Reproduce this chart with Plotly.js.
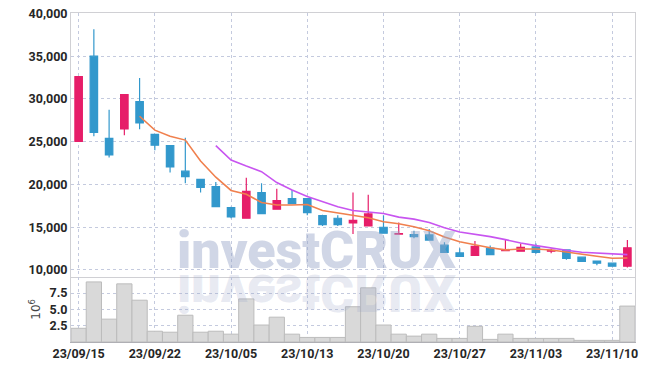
<!DOCTYPE html>
<html>
<head>
<meta charset="utf-8">
<script src="https://cdn.plot.ly/plotly-3.0.1.min.js"></script>
<style>html,body{margin:0;padding:0;background:#fff;}#chart{width:645px;height:370px;}</style>
</head>
<body>
<div id="chart"></div>
<script>
const dates = ["23/09/15","23/09/18","23/09/19","23/09/20","23/09/21","23/09/22","23/09/25","23/09/26","23/09/27",
  "23/10/04","23/10/05","23/10/06","23/10/10","23/10/11","23/10/12","23/10/13","23/10/16","23/10/17","23/10/18",
  "23/10/19","23/10/20","23/10/23","23/10/24","23/10/25","23/10/26","23/10/27","23/10/30","23/10/31","23/11/01",
  "23/11/02","23/11/03","23/11/06","23/11/07","23/11/08","23/11/09","23/11/10","23/11/13"];
const openP  = [25050,35000,25400,26500,29700,25850,24550,21550,20600,19750,17300,16050,19050,17100,18350,18350,16350,16050,15500,15150,15000,14200,14150,14100,12900,12000,11700,12550,12250,12200,12700,12200,12350,11500,11050,10800,10450];
const highP  = [32600,38150,28750,30500,32450,25900,24600,25450,20650,20300,17400,20800,20150,19500,19350,18400,16450,16400,19050,18800,16400,15550,14600,14800,13250,12550,13400,12850,13500,13100,13100,12500,12400,11500,11050,10800,13500];
const lowP   = [25050,25650,23150,25750,26450,24000,21400,20150,19050,17350,16050,16000,16600,17050,17750,16400,15150,15150,14200,15150,14300,14150,13700,13500,12050,11600,11700,11800,12200,12200,11900,11950,11200,11000,10550,10400,10300];
const closeP = [32600,26100,23450,30500,27200,24600,22050,20900,19650,17400,16200,19200,16600,18100,17750,16700,15300,15300,15800,16550,14300,14250,13900,13500,12050,11600,12750,11800,12300,12650,12050,12300,11350,11000,10800,10450,12600];
const ma5  = [null,null,null,null,27980,26350,25650,25190,22750,20850,19300,18850,17900,17600,17600,17650,16950,16650,16350,16100,15650,15400,15050,14600,13850,13300,12950,12600,12350,12450,12450,12330,12100,11830,11600,11380,11400];
const ma10 = [null,null,null,null,null,null,null,null,null,24550,22850,22150,21500,20220,19350,18600,18000,17400,16950,16800,16600,16180,15950,15550,14950,14450,14200,13900,13550,13150,12850,12550,12300,12080,11980,11820,11800];
const volumeM = [2.1,9.2,3.5,8.9,6.4,1.65,1.5,4.1,1.5,1.65,1.2,6.6,2.6,3.8,1.2,0.7,0.7,0.7,5.4,8.3,2.6,1.2,0.9,1.2,0.55,0.55,2.4,0.4,1.2,0.55,0.55,0.55,0.55,0.25,0.25,0.25,5.5];
const xTickLabels = ["23/09/15","23/09/22","23/10/05","23/10/13","23/10/20","23/10/27","23/11/03","23/11/10"];
const priceTicks = [10000,15000,20000,25000,30000,35000,40000];
const volTicks = [2.5,5,7.5];
const volTickText = ["2.5","5.0","7.5"];
const watermark = "investCRUX";

const RED = "rgb(230,30,105)";
const BLUE = "rgb(50,152,204)";
const GRID = "rgb(196,202,222)";
const tickFont = {family: "Roboto, DejaVu Sans Condensed", size: 12.5, color: "#262626", weight: 700};

const traces = [
  {type: "candlestick", x: dates, open: openP, high: highP, low: lowP, close: closeP,
   xaxis: "x", yaxis: "y", hoverinfo: "skip", showlegend: false,
   increasing: {line: {color: RED, width: 1.2}, fillcolor: RED},
   decreasing: {line: {color: BLUE, width: 1.2}, fillcolor: BLUE},
   whiskerwidth: 0},
  {type: "scatter", mode: "lines", x: dates, y: ma5, xaxis: "x", yaxis: "y",
   line: {color: "rgb(240,128,78)", width: 1.6}, hoverinfo: "skip", showlegend: false},
  {type: "scatter", mode: "lines", x: dates, y: ma10, xaxis: "x", yaxis: "y",
   line: {color: "rgb(200,85,240)", width: 1.6}, hoverinfo: "skip", showlegend: false},
  {type: "bar", x: dates, y: volumeM, xaxis: "x2", yaxis: "y2",
   marker: {color: "rgb(217,217,217)", line: {color: "rgb(188,188,188)", width: 1}},
   hoverinfo: "skip", showlegend: false}
];

const split = 0.1985;
const wmFont = {family: "Roboto, DejaVu Sans", size: 52, weight: 900};
const layout = {
  width: 645, height: 370,
  margin: {l: 71, r: 10, t: 13, b: 28},
  paper_bgcolor: "#fff", plot_bgcolor: "#fff",
  bargap: 0, boxgap: 0.3,
  xaxis: {type: "category", anchor: "y", domain: [0, 1], range: [-0.5, 36.5],
    rangeslider: {visible: false}, showticklabels: false,
    tickmode: "array", tickvals: xTickLabels, ticks: "",
    showgrid: true, gridcolor: GRID, griddash: "dot", gridwidth: 1,
    showline: true, linecolor: "rgb(208,208,212)", linewidth: 1, mirror: true, zeroline: false},
  xaxis2: {type: "category", anchor: "y2", domain: [0, 1], range: [-0.5, 36.5], matches: "x",
    tickmode: "array", tickvals: xTickLabels, ticktext: xTickLabels, ticks: "",
    tickfont: tickFont, tickangle: 0,
    showgrid: true, gridcolor: GRID, griddash: "dot", gridwidth: 1,
    showline: true, linecolor: "rgb(175,175,180)", linewidth: 1, mirror: false, zeroline: false},
  yaxis: {domain: [split, 1], range: [9216, 40050],
    tickmode: "array", tickvals: priceTicks, tickformat: ",d", ticks: "",
    tickfont: tickFont,
    showgrid: true, gridcolor: GRID, griddash: "dot", gridwidth: 1,
    showline: true, linecolor: "rgb(208,208,212)", linewidth: 1, mirror: true, zeroline: false},
  yaxis2: {domain: [0, split], range: [0, 10],
    tickmode: "array", tickvals: volTicks, ticktext: volTickText, ticks: "",
    tickfont: tickFont,
    title: {text: "10<sup>6</sup>", font: {family: "DejaVu Sans", size: 12, color: "#444"}, standoff: 6},
    showgrid: true, gridcolor: GRID, griddash: "dot", gridwidth: 1,
    showline: true, linecolor: "rgb(208,208,212)", linewidth: 1, mirror: true, zeroline: false},
  annotations: [
    {text: watermark, xref: "paper", yref: "paper", x: 0.437, y: (370 - 28 - 251) / 329,
     xanchor: "center", yanchor: "middle", showarrow: false,
     font: Object.assign({color: "rgba(150,163,200,0.45)"}, wmFont)},
    {text: watermark, xref: "paper", yref: "paper", x: 0.437, y: (370 - 28 - 292) / 329,
     xanchor: "center", yanchor: "middle", showarrow: false,
     font: Object.assign({color: "rgba(150,163,200,0.22)"}, wmFont)}
  ]
};

Plotly.newPlot("chart", traces, layout, {staticPlot: true, displayModeBar: false}).then(function () {
  const anns = document.querySelectorAll("#chart .annotation .annotation-text-g");
  if (anns.length > 1) {
    const g = anns[1];
    g.style.transformBox = "fill-box";
    g.style.transformOrigin = "center";
    g.style.transform = "scaleY(-1)";
  }
});
</script>
</body>
</html>
